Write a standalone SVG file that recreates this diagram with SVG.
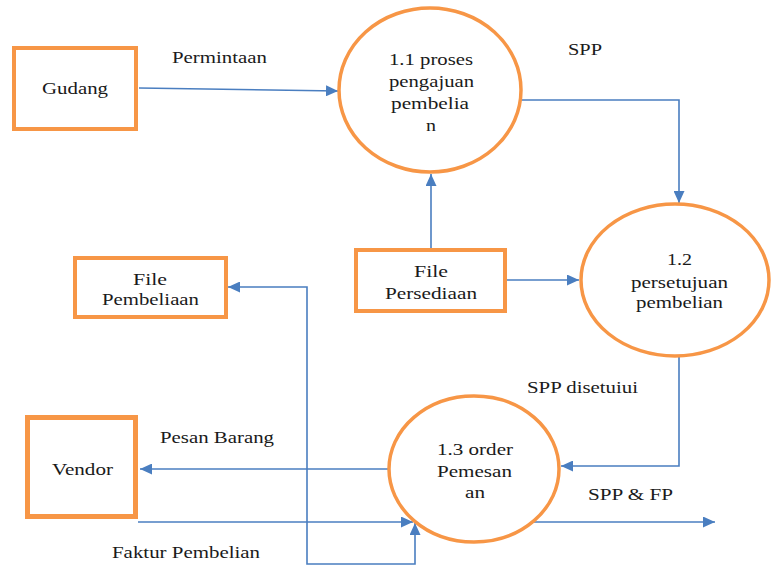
<svg xmlns="http://www.w3.org/2000/svg" width="772" height="567" viewBox="0 0 772 567">
<defs>
<marker id="ah" markerUnits="userSpaceOnUse" markerWidth="13" markerHeight="11" refX="12" refY="5.5" orient="auto-start-reverse">
<path d="M0,0 L12,5.5 L0,11 z" fill="#4A7EC0"/>
</marker>
<style>
.box{fill:#fff;stroke:#F79646;stroke-width:4}
.proc{fill:#fff;stroke:#F79646;stroke-width:3.5}
.flow{fill:none;stroke:#4A7EC0;stroke-width:1.6;marker-end:url(#ah)}
</style>
</defs>
<rect width="772" height="567" fill="#fff"/>
<g id="connectors">
<path class="flow" d="M139 88 L338 91"/>
<path class="flow" d="M516 100 H679 V203"/>
<path class="flow" d="M431 248 V174"/>
<path class="flow" d="M507 280 H579"/>
<path class="flow" d="M679 357 V466 H561"/>
<path class="flow" d="M388 469 H140"/>
<path class="flow" d="M138 522 H413"/>
<path class="flow" d="M228 287 H307 V564 H415 V523" style="marker-start:url(#ah)"/>
<path class="flow" d="M533 522 H715"/>
</g>
<g font-family="'Liberation Serif', 'Times New Roman', serif" font-size="17" fill="#1a1a1a">
<g id="labels">
<text x="172" y="63" textLength="95" lengthAdjust="spacingAndGlyphs">Permintaan</text>
<text x="568" y="55" textLength="34" lengthAdjust="spacingAndGlyphs">SPP</text>
<text x="527" y="393" textLength="111" lengthAdjust="spacingAndGlyphs">SPP disetuiui</text>
<text x="588" y="500" textLength="85" lengthAdjust="spacingAndGlyphs">SPP &amp; FP</text>
<text x="160" y="443" textLength="114" lengthAdjust="spacingAndGlyphs">Pesan Barang</text>
<text x="112" y="558" textLength="148" lengthAdjust="spacingAndGlyphs">Faktur Pembelian</text>
</g>
<g id="gudang">
<rect class="box" x="14" y="48" width="122" height="81"/>
<text x="42" y="94" textLength="66" lengthAdjust="spacingAndGlyphs">Gudang</text>
</g>
<g id="p11">
<ellipse class="proc" cx="430" cy="90" rx="91" ry="82"/>
<text x="389" y="65" textLength="84" lengthAdjust="spacingAndGlyphs">1.1 proses</text>
<text x="389" y="87" textLength="85" lengthAdjust="spacingAndGlyphs">pengajuan</text>
<text x="391" y="109" textLength="78" lengthAdjust="spacingAndGlyphs">pembelia</text>
<text x="426" y="131" textLength="10" lengthAdjust="spacingAndGlyphs">n</text>
</g>
<g id="file-persediaan">
<rect class="box" x="356" y="250" width="149" height="61"/>
<text x="414" y="277" textLength="34" lengthAdjust="spacingAndGlyphs">File</text>
<text x="385" y="299" textLength="92" lengthAdjust="spacingAndGlyphs">Persediaan</text>
</g>
<g id="p12">
<ellipse class="proc" cx="675" cy="280" rx="94" ry="76"/>
<text x="667" y="265" textLength="25" lengthAdjust="spacingAndGlyphs">1.2</text>
<text x="631" y="288" textLength="97" lengthAdjust="spacingAndGlyphs">persetujuan</text>
<text x="636" y="308" textLength="87" lengthAdjust="spacingAndGlyphs">pembelian</text>
</g>
<g id="file-pembeliaan">
<rect class="box" x="75" y="258" width="151" height="59"/>
<text x="133" y="285" textLength="34" lengthAdjust="spacingAndGlyphs">File</text>
<text x="102" y="305" textLength="97" lengthAdjust="spacingAndGlyphs">Pembeliaan</text>
</g>
<g id="vendor">
<rect class="box" x="27.5" y="417.5" width="108" height="99" style="stroke-width:5"/>
<text x="52" y="475" textLength="61" lengthAdjust="spacingAndGlyphs">Vendor</text>
</g>
<g id="p13">
<ellipse class="proc" cx="474" cy="469" rx="85" ry="73"/>
<text x="437" y="455" textLength="76" lengthAdjust="spacingAndGlyphs">1.3 order</text>
<text x="437" y="477" textLength="75" lengthAdjust="spacingAndGlyphs">Pemesan</text>
<text x="465" y="498" textLength="20" lengthAdjust="spacingAndGlyphs">an</text>
</g>
</g>
</svg>
